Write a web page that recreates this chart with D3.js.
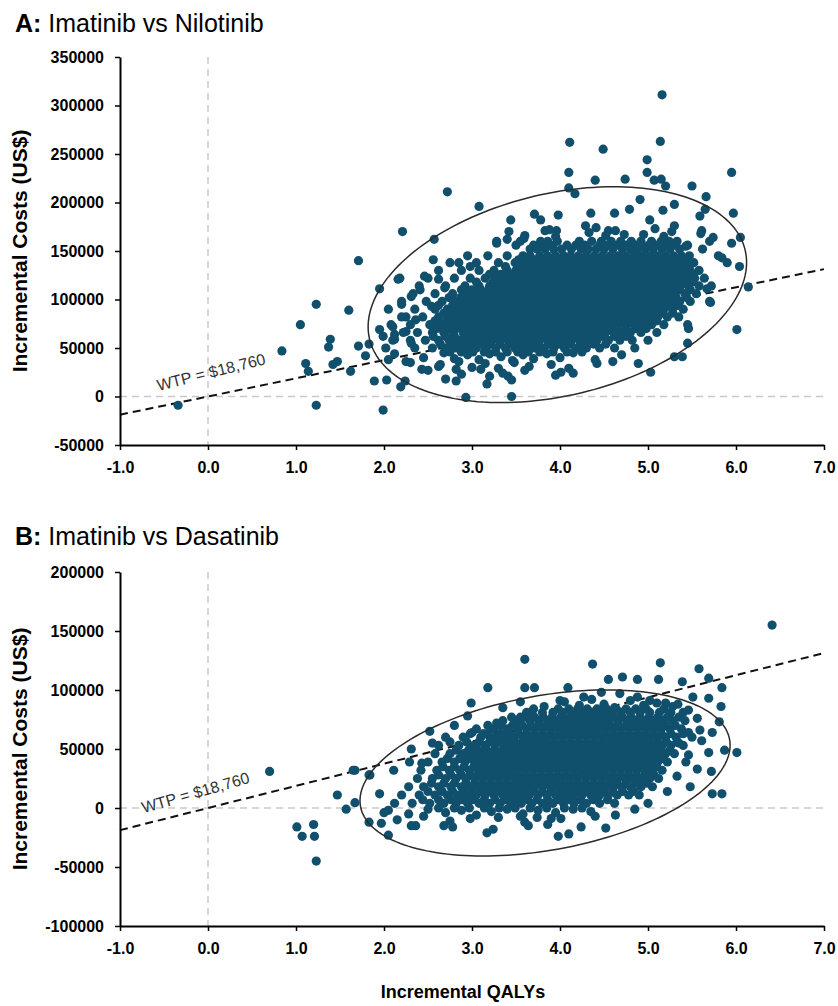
<!DOCTYPE html>
<html>
<head>
<meta charset="utf-8">
<script src="https://cdn.jsdelivr.net/npm/d3@7"></script>
<style>
  body { margin: 0; background: #fff; }
  svg { display: block; }
  .tick text { font: bold 16px "Liberation Sans", Arial, sans-serif; fill: #000; }
</style>
</head>
<body>
<div id="chart"></div>
<script>
// ---- data ----
const qalyTicks = [-1, 0, 1, 2, 3, 4, 5, 6, 7];
const costTicksA = [-50000, 0, 50000, 100000, 150000, 200000, 250000, 300000, 350000];
const costTicksB = [-100000, -50000, 0, 50000, 100000, 150000, 200000];
const wtp = 18760;

// dense core, one row per cost level: [cost, [qaly, ...]]
const rowsA = [
  [160000, [3.28, 3.55, 3.78, 3.86, 3.97, 4.22, 4.36, 4.47, 4.58, 4.69, 4.81, 4.92, 5.04, 5.15, 5.24, 5.33, 5.70]],
  [156000, [3.50, 3.70, 3.80, 3.90, 4.08, 4.18, 4.28, 4.45, 4.54, 4.64, 4.75, 4.85, 4.93, 5.01, 5.11, 5.20, 5.30, 5.45]],
  [152000, [3.66, 3.74, 3.83, 3.93, 4.02, 4.13, 4.24, 4.32, 4.41, 4.50, 4.60, 4.71, 4.80, 4.88, 4.97, 5.06, 5.16, 5.25, 5.36, 5.62]],
  [145000, [2.95, 3.18, 3.40, 3.58, 3.66, 3.77, 3.86, 3.95, 4.04, 4.12, 4.21, 4.30, 4.39, 4.48, 4.57, 4.66, 4.75, 4.84, 4.93, 5.02, 5.11, 5.20, 5.29, 5.38, 5.47, 5.80]],
  [141000, [3.53, 3.62, 3.71, 3.81, 3.90, 3.99, 4.08, 4.17, 4.26, 4.35, 4.44, 4.53, 4.62, 4.71, 4.80, 4.89, 4.98, 5.07, 5.16, 5.25, 5.34, 5.43]],
  [138000, [2.75, 3.05, 3.30, 3.49, 3.58, 3.67, 3.76, 3.85, 3.94, 4.03, 4.12, 4.21, 4.30, 4.39, 4.48, 4.57, 4.66, 4.75, 4.84, 4.93, 5.02, 5.11, 5.20, 5.29, 5.40, 5.52, 5.90]],
  [134000, [3.38, 3.54, 3.63, 3.72, 3.81, 3.90, 3.99, 4.08, 4.17, 4.26, 4.35, 4.44, 4.53, 4.62, 4.71, 4.80, 4.89, 4.98, 5.07, 5.16, 5.25, 5.34, 5.46]],
  [130000, [2.62, 2.88, 3.08, 3.25, 3.40, 3.50, 3.59, 3.68, 3.77, 3.86, 3.95, 4.04, 4.13, 4.22, 4.31, 4.40, 4.49, 4.58, 4.67, 4.76, 4.85, 4.94, 5.03, 5.12, 5.21, 5.30, 5.39, 5.48, 5.58]],
  [126000, [3.20, 3.33, 3.45, 3.54, 3.63, 3.72, 3.81, 3.90, 3.99, 4.08, 4.17, 4.26, 4.35, 4.44, 4.53, 4.62, 4.71, 4.80, 4.89, 4.98, 5.07, 5.16, 5.25, 5.34, 5.43, 5.52]],
  [122000, [2.18, 2.50, 2.80, 2.98, 3.15, 3.28, 3.37, 3.46, 3.55, 3.64, 3.73, 3.82, 3.91, 4.00, 4.09, 4.18, 4.27, 4.36, 4.45, 4.54, 4.63, 4.72, 4.81, 4.90, 4.99, 5.08, 5.17, 5.26, 5.35, 5.44, 5.53, 5.64]],
  [118000, [3.05, 3.24, 3.34, 3.43, 3.52, 3.61, 3.70, 3.79, 3.88, 3.97, 4.06, 4.15, 4.24, 4.33, 4.42, 4.51, 4.60, 4.69, 4.78, 4.87, 4.96, 5.05, 5.14, 5.23, 5.32, 5.41, 5.50]],
  [114000, [2.40, 2.70, 2.92, 3.08, 3.20, 3.30, 3.39, 3.48, 3.57, 3.66, 3.75, 3.84, 3.93, 4.02, 4.11, 4.20, 4.29, 4.38, 4.47, 4.56, 4.65, 4.74, 4.83, 4.92, 5.01, 5.10, 5.19, 5.28, 5.37, 5.46, 5.58, 5.72]],
  [110000, [2.88, 3.00, 3.10, 3.19, 3.28, 3.37, 3.46, 3.55, 3.64, 3.73, 3.82, 3.91, 4.00, 4.09, 4.18, 4.27, 4.36, 4.45, 4.54, 4.63, 4.72, 4.81, 4.90, 4.99, 5.08, 5.17, 5.26, 5.35, 5.48]],
  [106000, [2.33, 2.58, 2.78, 2.95, 3.05, 3.14, 3.23, 3.32, 3.41, 3.50, 3.59, 3.68, 3.77, 3.86, 3.95, 4.04, 4.13, 4.22, 4.31, 4.40, 4.49, 4.58, 4.67, 4.76, 4.85, 4.94, 5.03, 5.12, 5.21, 5.30, 5.42, 5.55]],
  [102000, [2.74, 2.87, 2.97, 3.06, 3.15, 3.24, 3.33, 3.42, 3.51, 3.60, 3.69, 3.78, 3.87, 3.96, 4.05, 4.14, 4.23, 4.32, 4.41, 4.50, 4.59, 4.68, 4.77, 4.86, 4.95, 5.04, 5.13, 5.22, 5.32, 5.44]],
  [98000, [2.20, 2.48, 2.66, 2.82, 2.92, 3.01, 3.10, 3.19, 3.28, 3.37, 3.46, 3.55, 3.64, 3.73, 3.82, 3.91, 4.00, 4.09, 4.18, 4.27, 4.36, 4.45, 4.54, 4.63, 4.72, 4.81, 4.90, 4.99, 5.08, 5.17, 5.26, 5.36, 5.48, 5.70]],
  [94000, [2.62, 2.78, 2.88, 2.97, 3.06, 3.15, 3.24, 3.33, 3.42, 3.51, 3.60, 3.69, 3.78, 3.87, 3.96, 4.05, 4.14, 4.23, 4.32, 4.41, 4.50, 4.59, 4.68, 4.77, 4.86, 4.95, 5.04, 5.13, 5.23, 5.34]],
  [90000, [2.05, 2.35, 2.58, 2.72, 2.84, 2.93, 3.02, 3.11, 3.20, 3.29, 3.38, 3.47, 3.56, 3.65, 3.74, 3.83, 3.92, 4.01, 4.10, 4.19, 4.28, 4.37, 4.46, 4.55, 4.64, 4.73, 4.82, 4.91, 5.00, 5.09, 5.18, 5.28, 5.40]],
  [86000, [2.68, 2.80, 2.90, 2.99, 3.08, 3.17, 3.26, 3.35, 3.44, 3.53, 3.62, 3.71, 3.80, 3.89, 3.98, 4.07, 4.16, 4.25, 4.34, 4.43, 4.52, 4.61, 4.70, 4.79, 4.88, 4.97, 5.06, 5.16, 5.28]],
  [82000, [2.25, 2.44, 2.62, 2.75, 2.86, 2.95, 3.04, 3.13, 3.22, 3.31, 3.40, 3.49, 3.58, 3.67, 3.76, 3.85, 3.94, 4.03, 4.12, 4.21, 4.30, 4.39, 4.48, 4.57, 4.66, 4.75, 4.84, 4.93, 5.02, 5.11, 5.22, 5.35]],
  [78000, [2.58, 2.71, 2.81, 2.90, 2.99, 3.08, 3.17, 3.26, 3.35, 3.44, 3.53, 3.62, 3.71, 3.80, 3.89, 3.98, 4.07, 4.16, 4.25, 4.34, 4.43, 4.52, 4.61, 4.70, 4.79, 4.88, 4.98, 5.10]],
  [74000, [2.08, 2.30, 2.52, 2.66, 2.77, 2.86, 2.95, 3.04, 3.13, 3.22, 3.31, 3.40, 3.49, 3.58, 3.67, 3.76, 3.85, 3.94, 4.03, 4.12, 4.21, 4.30, 4.39, 4.48, 4.57, 4.66, 4.75, 4.84, 4.93, 5.04, 5.18, 5.45]],
  [70000, [2.60, 2.72, 2.82, 2.92, 3.02, 3.12, 3.21, 3.30, 3.39, 3.48, 3.57, 3.66, 3.75, 3.84, 3.93, 4.02, 4.11, 4.20, 4.29, 4.38, 4.47, 4.56, 4.65, 4.75, 4.86, 4.98]],
  [66000, [2.22, 2.38, 2.55, 2.68, 2.79, 2.90, 2.99, 3.08, 3.17, 3.26, 3.35, 3.44, 3.53, 3.62, 3.71, 3.80, 3.89, 3.98, 4.07, 4.16, 4.25, 4.34, 4.43, 4.52, 4.61, 4.70, 4.80, 4.92, 5.10]],
  [62000, [2.56, 2.70, 2.80, 2.91, 3.01, 3.10, 3.19, 3.28, 3.37, 3.46, 3.55, 3.64, 3.73, 3.82, 3.91, 4.00, 4.09, 4.18, 4.27, 4.37, 4.48, 4.62, 4.75]],
  [58000, [2.10, 2.30, 2.47, 2.62, 2.74, 2.85, 2.96, 3.05, 3.14, 3.23, 3.32, 3.41, 3.50, 3.59, 3.68, 3.77, 3.86, 3.95, 4.04, 4.13, 4.22, 4.31, 4.42, 4.55, 4.68, 4.82, 5.00]],
  [54000, [2.64, 2.77, 2.89, 3.00, 3.10, 3.21, 3.32, 3.43, 3.54, 3.65, 3.76, 3.87, 3.99, 4.12, 4.24, 4.38, 4.52]],
  [50000, [2.02, 2.35, 2.55, 2.70, 2.82, 2.94, 3.05, 3.16, 3.27, 3.38, 3.49, 3.60, 3.71, 3.82, 3.93, 4.05, 4.18, 4.30, 4.45, 4.62, 4.85]],
  [46000, [2.75, 2.88, 3.01, 3.14, 3.27, 3.40, 3.52, 3.64, 3.77, 3.92, 4.08, 4.25]]
];

// scattered points: [qaly, cost]
const extraA = [
  [5.16, 311000], [5.14, 263000], [4.11, 262000], [4.49, 255000], [4.99, 244000], [4.10, 231000],
  [5.95, 231000], [4.40, 223000], [4.74, 224000], [4.99, 231000], [5.07, 223000], [5.15, 224000],
  [5.20, 217000], [5.50, 217000], [4.10, 215000], [4.17, 209000], [2.72, 211000], [3.08, 196000],
  [2.21, 170000], [2.57, 162000], [1.71, 140000], [1.23, 95000], [1.05, 74000], [1.60, 89000],
  [0.84, 47000], [1.11, 34000], [1.14, 26000], [1.39, 59000], [1.37, 51000], [1.42, 33000],
  [1.47, 36000], [1.62, 26000], [1.71, 52000], [1.83, 54000], [1.79, 42000], [1.89, 16000],
  [2.03, 17000], [2.19, 10000], [2.24, 16000], [1.23, -9000], [1.99, -14000], [-0.34, -9000],
  [2.93, -1000], [3.45, 0], [1.95, 111000], [2.16, 121000], [1.95, 69000], [1.99, 62000],
  [2.12, 64000], [2.05, 38000], [2.20, 95000], [2.82, 16000], [3.17, 13000], [3.41, 21000],
  [4.01, 25000], [4.15, 24000], [4.42, 34000], [4.89, 34000], [5.03, 25000], [5.39, 41000],
  [5.45, 55000], [5.46, 70000], [6.01, 69000], [6.14, 113000], [6.04, 134000], [6.05, 164000],
  [5.95, 158000], [5.84, 143000], [5.71, 97000], [5.67, 111000], [5.97, 189000], [5.66, 206000],
  [5.65, 193000], [5.59, 186000], [5.30, 198000], [5.17, 192000], [4.91, 203000], [4.79, 193000],
  [4.62, 189000], [4.35, 189000], [3.98, 187000], [3.71, 188000], [3.44, 182000], [3.28, 158000],
  [3.40, 162000], [3.59, 163000], [3.78, 182000], [3.83, 171000], [3.96, 171000], [4.29, 176000],
  [4.55, 171000], [4.73, 167000], [5.02, 182000], [5.30, 176000], [5.61, 171000], [5.74, 164000],
  [5.43, 155000], [5.20, 160000], [2.56, 141000], [2.85, 138000], [2.98, 134000], [2.46, 124000],
  [2.62, 121000], [2.69, 112000], [2.41, 110000], [2.31, 103000], [2.54, 93000], [2.20, 82000],
  [2.36, 79000], [2.10, 72000], [2.25, 67000], [2.12, 59000], [2.31, 55000], [2.25, 36000],
  [2.43, 28000], [2.64, 33000], [2.82, 28000],
  // ragged upper edge of the cloud
  [3.42, 170000], [3.60, 166000], [3.88, 172000], [3.95, 165000], [4.33, 169000], [4.41, 174000],
  [4.52, 166000], [4.63, 171000], [4.95, 167000], [5.08, 173000], [5.18, 165000], [5.27, 170000],
  [5.60, 168000],
  // ragged lower edge of the cloud
  [2.12, 44000], [2.45, 40000], [2.68, 45000], [2.80, 39000], [2.95, 43000], [3.08, 38000],
  [3.20, 44000], [3.33, 41000], [3.46, 37000], [3.58, 43000], [3.70, 39000], [3.85, 44000],
  [4.00, 40000], [4.15, 45000], [4.40, 38000], [4.70, 43000], [5.30, 41000],
  [2.30, 35000], [2.62, 31000], [2.85, 36000], [3.00, 30000], [3.15, 34000], [3.30, 29000],
  [3.48, 35000], [3.65, 31000], [3.90, 33000], [4.10, 29000], [4.60, 36000],
  [2.50, 27000], [2.88, 23000], [3.10, 28000], [3.35, 24000], [3.60, 27000], [3.95, 22000],
  [2.70, 18000], [3.20, 21000], [3.45, 17000]
];

const rowsB = [
  [84000, [3.70, 3.98, 4.10, 4.20, 4.31, 4.42, 4.53, 4.64, 4.75, 4.86, 4.98, 5.18]],
  [81000, [3.62, 3.80, 3.92, 4.03, 4.14, 4.25, 4.36, 4.47, 4.58, 4.69, 4.80, 4.91, 5.02, 5.13, 5.26, 5.40]],
  [77000, [3.45, 3.60, 3.71, 3.81, 3.91, 4.01, 4.11, 4.21, 4.31, 4.41, 4.51, 4.61, 4.71, 4.81, 4.91, 5.01, 5.11, 5.22, 5.35]],
  [74000, [3.35, 3.52, 3.66, 3.76, 3.86, 3.96, 4.06, 4.16, 4.26, 4.36, 4.46, 4.56, 4.66, 4.76, 4.86, 4.96, 5.06, 5.16, 5.28, 5.42]],
  [70000, [3.18, 3.33, 3.46, 3.57, 3.67, 3.76, 3.85, 3.94, 4.03, 4.12, 4.21, 4.30, 4.39, 4.48, 4.57, 4.66, 4.75, 4.84, 4.93, 5.02, 5.11, 5.20, 5.31]],
  [67000, [3.05, 3.25, 3.40, 3.52, 3.62, 3.71, 3.80, 3.89, 3.98, 4.07, 4.16, 4.25, 4.34, 4.43, 4.52, 4.61, 4.70, 4.79, 4.88, 4.97, 5.06, 5.15, 5.25, 5.38]],
  [63000, [2.98, 3.18, 3.32, 3.43, 3.53, 3.62, 3.71, 3.80, 3.89, 3.98, 4.07, 4.16, 4.25, 4.34, 4.43, 4.52, 4.61, 4.70, 4.79, 4.88, 4.97, 5.06, 5.15, 5.26, 5.40]],
  [60000, [2.90, 3.10, 3.26, 3.38, 3.48, 3.58, 3.67, 3.76, 3.85, 3.94, 4.03, 4.12, 4.21, 4.30, 4.39, 4.48, 4.57, 4.66, 4.75, 4.84, 4.93, 5.02, 5.11, 5.20, 5.32, 5.50]],
  [56000, [2.75, 2.94, 3.08, 3.20, 3.31, 3.40, 3.49, 3.58, 3.67, 3.76, 3.85, 3.94, 4.03, 4.12, 4.21, 4.30, 4.39, 4.48, 4.57, 4.66, 4.75, 4.84, 4.93, 5.02, 5.11, 5.21, 5.33]],
  [53000, [2.62, 2.85, 3.02, 3.15, 3.26, 3.36, 3.45, 3.54, 3.63, 3.72, 3.81, 3.90, 3.99, 4.08, 4.17, 4.26, 4.35, 4.44, 4.53, 4.62, 4.71, 4.80, 4.89, 4.98, 5.07, 5.16, 5.26, 5.40]],
  [49000, [2.82, 2.96, 3.07, 3.17, 3.26, 3.35, 3.44, 3.53, 3.62, 3.71, 3.80, 3.89, 3.98, 4.07, 4.16, 4.25, 4.34, 4.43, 4.52, 4.61, 4.70, 4.79, 4.88, 4.97, 5.06, 5.15, 5.25]],
  [46000, [2.58, 2.75, 2.90, 3.02, 3.12, 3.22, 3.31, 3.40, 3.49, 3.58, 3.67, 3.76, 3.85, 3.94, 4.03, 4.12, 4.21, 4.30, 4.39, 4.48, 4.57, 4.66, 4.75, 4.84, 4.93, 5.02, 5.11, 5.20, 5.30]],
  [42000, [2.72, 2.86, 2.97, 3.08, 3.17, 3.26, 3.35, 3.44, 3.53, 3.62, 3.71, 3.80, 3.89, 3.98, 4.07, 4.16, 4.25, 4.34, 4.43, 4.52, 4.61, 4.70, 4.79, 4.88, 4.97, 5.06, 5.16]],
  [39000, [2.50, 2.66, 2.80, 2.92, 3.03, 3.13, 3.22, 3.31, 3.40, 3.49, 3.58, 3.67, 3.76, 3.85, 3.94, 4.03, 4.12, 4.21, 4.30, 4.39, 4.48, 4.57, 4.66, 4.75, 4.84, 4.93, 5.02, 5.11, 5.22]],
  [35000, [2.67, 2.80, 2.91, 3.02, 3.11, 3.20, 3.29, 3.38, 3.47, 3.56, 3.65, 3.74, 3.83, 3.92, 4.01, 4.10, 4.19, 4.28, 4.37, 4.46, 4.55, 4.64, 4.73, 4.82, 4.91, 5.00, 5.10]],
  [32000, [2.42, 2.60, 2.74, 2.86, 2.97, 3.07, 3.16, 3.25, 3.34, 3.43, 3.52, 3.61, 3.70, 3.79, 3.88, 3.97, 4.06, 4.15, 4.24, 4.33, 4.42, 4.51, 4.60, 4.69, 4.78, 4.87, 4.96, 5.05, 5.16]],
  [28000, [2.62, 2.76, 2.88, 2.98, 3.07, 3.16, 3.25, 3.34, 3.43, 3.52, 3.61, 3.70, 3.79, 3.88, 3.97, 4.06, 4.15, 4.24, 4.33, 4.42, 4.51, 4.60, 4.69, 4.78, 4.87, 4.97, 5.07]],
  [25000, [2.38, 2.55, 2.70, 2.82, 2.93, 3.03, 3.12, 3.21, 3.30, 3.39, 3.48, 3.57, 3.66, 3.75, 3.84, 3.93, 4.02, 4.11, 4.20, 4.29, 4.38, 4.47, 4.56, 4.65, 4.74, 4.83, 4.92, 5.02, 5.12]],
  [21000, [2.54, 2.68, 2.80, 2.93, 3.03, 3.12, 3.21, 3.30, 3.39, 3.48, 3.57, 3.66, 3.75, 3.84, 3.93, 4.02, 4.11, 4.20, 4.29, 4.38, 4.47, 4.56, 4.65, 4.75, 4.86, 4.98]],
  [18000, [2.28, 2.45, 2.62, 2.76, 2.88, 2.98, 3.08, 3.17, 3.26, 3.35, 3.44, 3.53, 3.62, 3.71, 3.80, 3.89, 3.98, 4.07, 4.16, 4.25, 4.34, 4.43, 4.52, 4.61, 4.70, 4.80, 4.92, 5.05]],
  [14000, [2.50, 2.66, 2.78, 2.90, 3.00, 3.10, 3.20, 3.30, 3.40, 3.50, 3.60, 3.70, 3.80, 3.90, 4.00, 4.10, 4.20, 4.30, 4.40, 4.50, 4.60, 4.71, 4.84]],
  [11000, [2.20, 2.40, 2.58, 2.72, 2.84, 2.95, 3.05, 3.15, 3.25, 3.35, 3.45, 3.55, 3.65, 3.75, 3.85, 3.95, 4.05, 4.15, 4.25, 4.35, 4.45, 4.55, 4.65, 4.78, 4.90]],
  [7000, [2.44, 2.62, 2.76, 2.89, 3.01, 3.14, 3.26, 3.38, 3.50, 3.62, 3.74, 3.86, 3.98, 4.10, 4.23, 4.38, 4.54]],
  [4000, [2.12, 2.32, 2.52, 2.68, 2.82, 2.95, 3.08, 3.20, 3.32, 3.44, 3.56, 3.68, 3.80, 3.92, 4.04, 4.16, 4.30, 4.45, 4.62]],
  [0, [2.62, 2.80, 2.97, 3.14, 3.31, 3.49, 3.66, 3.85, 4.05, 4.25]]
];

const extraB = [
  [6.41, 155000], [3.60, 126000], [4.37, 122000], [5.14, 123000], [5.58, 118000], [3.18, 102000],
  [3.60, 102000], [3.71, 102000], [4.09, 102000], [4.55, 109000], [4.71, 111000], [4.88, 109000],
  [5.12, 109000], [5.39, 107000], [5.69, 110000], [5.84, 102000], [5.69, 93000], [5.83, 86000],
  [5.81, 73000], [5.73, 64000], [5.87, 49000], [6.01, 47000], [5.69, 47000], [5.72, 31000],
  [5.73, 12000], [5.84, 12000], [5.56, 33000], [5.48, 18000], [5.51, 94000], [2.99, 89000],
  [3.28, 72000], [2.52, 65000], [2.55, 55000], [2.31, 50000], [2.29, 39000], [2.43, 38000],
  [2.11, 32000], [1.84, 28000], [1.67, 32000], [0.70, 31000], [1.47, 11000], [1.67, 4500],
  [1.57, -1000], [1.83, -12000], [1.01, -16000], [1.20, -14000], [1.07, -24000], [1.21, -24000],
  [1.23, -45000], [2.05, -23000], [1.97, -13000], [2.31, -15000], [2.36, -15000], [2.68, -15000],
  [2.78, -16000], [3.17, -21000], [3.24, -18000], [3.64, -15000], [3.86, -14000], [3.98, -24000],
  [4.10, -22000], [4.24, -16000], [4.52, -17000], [4.01, -9000], [4.40, -7000], [4.63, -6000],
  [4.85, -1000], [5.00, 4000], [5.22, 14000], [3.74, -8000], [3.55, -7000], [2.98, -9000],
  [3.00, 64000], [3.13, 63000], [3.67, 81000], [3.55, 77000], [4.00, 91000], [4.27, 94000],
  [4.47, 98000], [4.68, 97000], [4.88, 94000], [5.02, 91000], [5.20, 89000], [5.34, 88000],
  [5.46, 83000], [5.56, 76000], [5.59, 66000], [5.46, 64000], [5.35, 55000], [5.61, 57000],
  [5.46, 45000], [5.43, 39000], [5.33, 27000], [2.80, 70000], [2.95, 78000], [3.35, 85000],
  [3.55, 90000], [2.70, 60000], [1.95, 12000], [2.00, -4000], [1.65, 32000], [1.83, 28000],
  // ragged upper edge of the cloud
  [3.82, 86000], [4.05, 90000], [4.22, 87000], [4.36, 92000], [4.50, 88000], [4.62, 85000],
  [4.80, 91000], [4.95, 87000], [5.10, 89000], [5.28, 86000],
  // ragged lower edge of the cloud
  [2.05, -2000], [2.28, -5000], [2.50, -1000], [2.70, -4000], [2.88, -2000], [3.05, -6000],
  [3.22, -3000], [3.40, -1000], [3.58, -5000], [3.75, -2000], [3.95, -4000], [4.15, -1000],
  [4.35, -3000], [2.15, -10000], [2.45, -7000], [2.75, -11000], [3.30, -8000], [3.60, -12000],
  [3.90, -9000]
];

// 95% ellipse: centre and two half-axis vectors, in data units
const ellipseA = { cx: 3.97, cy: 105000, ux: 2.134, uy: 45980, vx: 0.265, vy: -101340 };
const ellipseB = { cx: 3.83, cy: 29700, ux: 2.097, uy: 28390, vx: 0.157, vy: -64400 };

const flatten = (rows, extra) => rows.flatMap(([c, qs]) => qs.map(q => [q, c])).concat(extra);

// ---- layout ----
const W = 838, H = 1006;
const dotColor = "#11506d";
const panels = [
  { lead: "A:", title: " Imatinib vs Nilotinib", titleY: 32, top: 57, bottom: 445,
    yTicks: costTicksA, pts: flatten(rowsA, extraA), ell: ellipseA,
    wtpAt: [0.05, 19600], wtpRot: -14, yTitleY: 251 },
  { lead: "B:", title: " Imatinib vs Dasatinib", titleY: 545, top: 572, bottom: 926,
    yTicks: costTicksB, pts: flatten(rowsB, extraB), ell: ellipseB,
    wtpAt: [-0.125, 8500], wtpRot: -16, yTitleY: 749 }
];

const svg = d3.select("#chart").append("svg")
  .attr("width", W).attr("height", H)
  .style("background", "#fff");

panels.forEach(function(p) {
  const x = d3.scaleLinear().domain([-1, 7]).range([120, 824]);
  const y = d3.scaleLinear().domain(d3.extent(p.yTicks)).range([p.bottom, p.top]);
  const g = svg.append("g");

  // title
  const t = g.append("text").attr("x", 15).attr("y", p.titleY)
    .style("font-family", "'Liberation Sans', Arial, sans-serif")
    .style("font-size", "25px");
  t.append("tspan").attr("font-weight", "bold").text(p.lead);
  t.append("tspan").text(p.title);

  // zero reference lines
  g.append("line")
    .attr("x1", x(0)).attr("x2", x(0)).attr("y1", p.top).attr("y2", p.bottom)
    .attr("stroke", "#c9c9c9").attr("stroke-width", 1.5).attr("stroke-dasharray", "7,5");
  g.append("line")
    .attr("x1", x(-1)).attr("x2", x(7)).attr("y1", y(0)).attr("y2", y(0))
    .attr("stroke", "#c9c9c9").attr("stroke-width", 1.5).attr("stroke-dasharray", "7,5");

  // willingness-to-pay line
  g.append("line")
    .attr("x1", x(-1)).attr("y1", y(-wtp))
    .attr("x2", x(7)).attr("y2", y(7 * wtp))
    .attr("stroke", "#111").attr("stroke-width", 2).attr("stroke-dasharray", "8,5");

  g.selectAll(".dot").data(p.pts).enter().append("circle")
    .attr("class", "dot")
    .attr("cx", d => x(d[0]))
    .attr("cy", d => y(d[1]))
    .attr("r", 4.6)
    .attr("fill", dotColor);

  // ellipse
  const e = p.ell;
  const ring = d3.range(0, 2 * Math.PI, Math.PI / 90).map(a => [
    e.cx + Math.cos(a) * e.ux + Math.sin(a) * e.vx,
    e.cy + Math.cos(a) * e.uy + Math.sin(a) * e.vy
  ]);
  g.append("path")
    .attr("d", d3.line().x(d => x(d[0])).y(d => y(d[1])).curve(d3.curveLinearClosed)(ring))
    .attr("fill", "none").attr("stroke", "#2b2b2b").attr("stroke-width", 1.5);

  // WTP label
  g.append("text")
    .attr("transform", `translate(${x(p.wtpAt[0])},${y(p.wtpAt[1])}) rotate(${p.wtpRot})`)
    .attr("text-anchor", "middle")
    .style("font-family", "'Liberation Sans', Arial, sans-serif")
    .style("font-size", "16px")
    .attr("fill", "#333")
    .text("WTP = $18,760");

  // axes
  const xa = g.append("g").attr("transform", `translate(0,${p.bottom})`)
    .call(d3.axisBottom(x).tickValues(qalyTicks).tickFormat(d => d.toFixed(1))
      .tickSize(5).tickSizeOuter(0).tickPadding(12));
  const ya = g.append("g").attr("transform", "translate(120,0)")
    .call(d3.axisLeft(y).tickValues(p.yTicks).tickFormat(d => String(d))
      .tickSize(5).tickSizeOuter(0).tickPadding(11));
  [xa, ya].forEach(a => {
    a.select(".domain").attr("stroke", "#000").attr("stroke-width", 2);
    a.selectAll(".tick line").attr("stroke", "#000").attr("stroke-width", 1.5);
  });

  g.append("text")
    .attr("transform", `translate(20,${p.yTitleY}) rotate(-90)`)
    .attr("text-anchor", "middle").attr("dy", "0.35em")
    .style("font", "bold 21px 'Liberation Sans', Arial, sans-serif")
    .text("Incremental Costs (US$)");
});

svg.append("text")
  .attr("x", 463).attr("y", 998).attr("text-anchor", "middle")
  .style("font", "bold 18px 'Liberation Sans', Arial, sans-serif")
  .text("Incremental QALYs");
</script>
</body>
</html>
